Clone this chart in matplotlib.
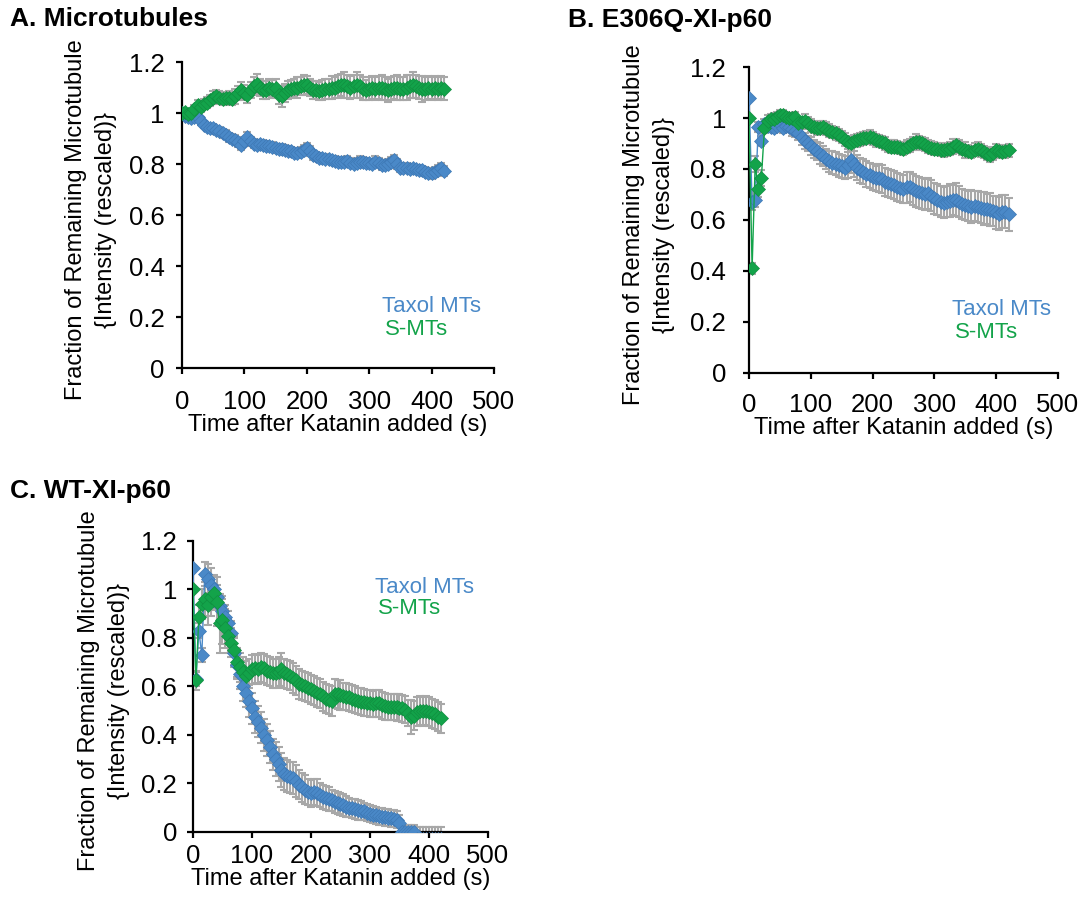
import numpy as np
import matplotlib
matplotlib.use("Agg")
import matplotlib.pyplot as plt
from matplotlib.ticker import FormatStrFormatter

plt.rcParams['font.family'] = ['Liberation Sans', 'DejaVu Sans']

# time points (s), one every 5 s
time_s = list(range(0, 425, 5))

# ---- A. Microtubules
a_taxol = [1.00, 0.99, 0.985, 0.98, 0.985, 0.985, 0.97, 0.955, 0.945, 0.94,
           0.94, 0.933, 0.93, 0.92, 0.915, 0.905, 0.90, 0.895, 0.885, 0.875,
           0.89, 0.905, 0.89, 0.88, 0.875, 0.878, 0.875, 0.872, 0.87, 0.868,
           0.862, 0.86, 0.86, 0.855, 0.853, 0.85, 0.845, 0.842, 0.848, 0.855,
           0.862, 0.85, 0.835, 0.83, 0.825, 0.822, 0.82, 0.818, 0.815, 0.812,
           0.81, 0.81, 0.808, 0.812, 0.805, 0.802, 0.805, 0.81, 0.808, 0.805,
           0.803, 0.802, 0.81, 0.805, 0.796, 0.798, 0.80, 0.808, 0.815, 0.80,
           0.785, 0.783, 0.785, 0.782, 0.783, 0.78, 0.778, 0.776, 0.77, 0.765,
           0.763, 0.77, 0.778, 0.783, 0.772]
a_taxol_err = [0.005, 0.01, 0.012, 0.012, 0.015, 0.015, 0.015, 0.015, 0.015, 0.016,
               0.016, 0.016, 0.017, 0.017, 0.017, 0.018, 0.018, 0.018, 0.018, 0.018,
               0.018, 0.02, 0.018, 0.018, 0.018, 0.018, 0.018, 0.018, 0.018, 0.018,
               0.018, 0.018, 0.018, 0.018, 0.018, 0.018, 0.018, 0.018, 0.018, 0.02,
               0.02, 0.02, 0.018, 0.018, 0.018, 0.018, 0.018, 0.018, 0.018, 0.018,
               0.018, 0.018, 0.018, 0.02, 0.018, 0.018, 0.018, 0.02, 0.018, 0.018,
               0.018, 0.018, 0.02, 0.018, 0.018, 0.018, 0.018, 0.018, 0.02, 0.018,
               0.018, 0.018, 0.018, 0.018, 0.018, 0.018, 0.018, 0.018, 0.018, 0.02,
               0.02, 0.02, 0.02, 0.02, 0.02]
a_smt = [1.00, 1.005, 0.995, 1.00, 1.015, 1.03, 1.025, 1.035, 1.04, 1.05,
         1.06, 1.065, 1.06, 1.055, 1.058, 1.06, 1.055, 1.065, 1.08, 1.09,
         1.08, 1.07, 1.09, 1.105, 1.115, 1.10, 1.09, 1.09, 1.10, 1.095,
         1.10, 1.07, 1.065, 1.08, 1.09, 1.095, 1.10, 1.10, 1.105, 1.11,
         1.11, 1.10, 1.09, 1.09, 1.085, 1.09, 1.095, 1.095, 1.10, 1.10,
         1.105, 1.11, 1.11, 1.105, 1.10, 1.105, 1.11, 1.105, 1.095, 1.09,
         1.095, 1.10, 1.095, 1.10, 1.10, 1.095, 1.09, 1.095, 1.10, 1.10,
         1.095, 1.095, 1.10, 1.105, 1.11, 1.105, 1.10, 1.095, 1.095, 1.10,
         1.095, 1.10, 1.095, 1.10, 1.095]
a_smt_err = [0.005, 0.01, 0.012, 0.015, 0.018, 0.02, 0.02, 0.02, 0.022, 0.022,
             0.025, 0.025, 0.025, 0.025, 0.025, 0.025, 0.025, 0.028, 0.028, 0.03,
             0.03, 0.03, 0.03, 0.035, 0.04, 0.035, 0.035, 0.035, 0.035, 0.035,
             0.035, 0.035, 0.04, 0.035, 0.035, 0.035, 0.035, 0.04, 0.035, 0.04,
             0.035, 0.035, 0.035, 0.035, 0.035, 0.04, 0.04, 0.04, 0.045, 0.04,
             0.045, 0.045, 0.05, 0.045, 0.045, 0.045, 0.05, 0.045, 0.045, 0.04,
             0.045, 0.045, 0.045, 0.045, 0.05, 0.045, 0.045, 0.045, 0.045, 0.05,
             0.045, 0.045, 0.05, 0.045, 0.05, 0.045, 0.045, 0.05, 0.045, 0.045,
             0.045, 0.045, 0.045, 0.045, 0.045]

# ---- B. E306Q-XI-p60
b_taxol = [1.08, 0.67, 0.68, 0.965, 0.91, 0.975, 0.97, 0.965, 0.96, 0.97,
           0.975, 0.96, 0.97, 0.965, 0.955, 0.95, 0.94, 0.925, 0.91, 0.90,
           0.89, 0.88, 0.87, 0.86, 0.85, 0.84, 0.83, 0.825, 0.82, 0.815,
           0.81, 0.805, 0.815, 0.835, 0.82, 0.805, 0.795, 0.79, 0.78, 0.775,
           0.768, 0.763, 0.765, 0.762, 0.75, 0.745, 0.74, 0.737, 0.73, 0.725,
           0.722, 0.728, 0.73, 0.72, 0.712, 0.708, 0.704, 0.70, 0.704, 0.695,
           0.685, 0.68, 0.672, 0.668, 0.672, 0.675, 0.678, 0.68, 0.672, 0.662,
           0.658, 0.655, 0.652, 0.655, 0.652, 0.648, 0.645, 0.643, 0.64, 0.636,
           0.63, 0.625, 0.632, 0.633, 0.622]
b_taxol_err = [0.005, 0.03, 0.03, 0.02, 0.02, 0.02, 0.02, 0.02, 0.02, 0.02,
               0.02, 0.02, 0.02, 0.02, 0.025, 0.025, 0.025, 0.03, 0.03, 0.03,
               0.035, 0.035, 0.035, 0.04, 0.04, 0.04, 0.04, 0.045, 0.045, 0.045,
               0.045, 0.045, 0.05, 0.05, 0.05, 0.05, 0.05, 0.05, 0.05, 0.05,
               0.05, 0.05, 0.055, 0.055, 0.055, 0.055, 0.055, 0.055, 0.055, 0.055,
               0.055, 0.06, 0.06, 0.06, 0.06, 0.06, 0.06, 0.06, 0.06, 0.06,
               0.06, 0.06, 0.06, 0.06, 0.06, 0.065, 0.06, 0.065, 0.06, 0.06,
               0.06, 0.06, 0.065, 0.06, 0.06, 0.06, 0.065, 0.06, 0.065, 0.06,
               0.065, 0.065, 0.065, 0.065, 0.065]
b_smt = [1.00, 0.41, 0.82, 0.72, 0.765, 0.96, 0.99, 0.995, 0.998, 1.005,
         1.01, 1.01, 1.005, 1.00, 1.00, 1.005, 0.98, 0.985, 0.99, 0.98,
         0.97, 0.965, 0.96, 0.962, 0.965, 0.958, 0.95, 0.945, 0.94, 0.933,
         0.925, 0.915, 0.905, 0.90, 0.91, 0.913, 0.917, 0.92, 0.923, 0.926,
         0.92, 0.913, 0.91, 0.906, 0.90, 0.89, 0.887, 0.887, 0.886, 0.882,
         0.88, 0.887, 0.893, 0.90, 0.906, 0.904, 0.90, 0.895, 0.887, 0.884,
         0.88, 0.878, 0.875, 0.874, 0.877, 0.88, 0.888, 0.893, 0.888, 0.88,
         0.875, 0.87, 0.867, 0.875, 0.88, 0.873, 0.867, 0.86, 0.854, 0.862,
         0.874, 0.87, 0.867, 0.87, 0.874]
b_smt_err = [0.005, 0.02, 0.03, 0.03, 0.03, 0.02, 0.02, 0.02, 0.02, 0.02,
             0.02, 0.02, 0.02, 0.02, 0.02, 0.02, 0.02, 0.02, 0.025, 0.025,
             0.025, 0.025, 0.025, 0.025, 0.025, 0.025, 0.025, 0.025, 0.025, 0.025,
             0.025, 0.025, 0.025, 0.025, 0.025, 0.025, 0.025, 0.025, 0.025, 0.025,
             0.025, 0.025, 0.025, 0.025, 0.025, 0.025, 0.025, 0.025, 0.025, 0.025,
             0.025, 0.025, 0.025, 0.025, 0.03, 0.025, 0.025, 0.025, 0.025, 0.025,
             0.025, 0.025, 0.025, 0.025, 0.025, 0.025, 0.03, 0.025, 0.025, 0.025,
             0.03, 0.025, 0.025, 0.025, 0.025, 0.025, 0.025, 0.025, 0.025, 0.025,
             0.025, 0.025, 0.025, 0.025, 0.025]

# ---- C. WT-XI-p60
c_taxol = [1.09, 0.63, 0.83, 0.73, 1.065, 1.045, 1.02, 1.00, 0.97, 0.93,
           0.91, 0.885, 0.86, 0.82, 0.74, 0.69, 0.65, 0.60, 0.575, 0.54,
           0.51, 0.475, 0.455, 0.43, 0.40, 0.38, 0.35, 0.32, 0.30, 0.28,
           0.255, 0.24, 0.23, 0.225, 0.222, 0.21, 0.195, 0.185, 0.175, 0.165,
           0.16, 0.165, 0.162, 0.152, 0.145, 0.14, 0.135, 0.13, 0.125, 0.12,
           0.115, 0.11, 0.105, 0.10, 0.097, 0.094, 0.09, 0.088, 0.085, 0.08,
           0.075, 0.072, 0.068, 0.065, 0.063, 0.06, 0.058, 0.056, 0.054, 0.05,
           0.035, 0.0, 0.0, 0.0, 0.0, 0.0, -0.03, -0.03, -0.03, -0.03,
           -0.03, -0.03, -0.03, -0.03, -0.03]
c_taxol_err = [0.005, 0.03, 0.03, 0.03, 0.05, 0.06, 0.07, 0.06, 0.05, 0.05,
               0.05, 0.05, 0.05, 0.05, 0.06, 0.06, 0.06, 0.06, 0.06, 0.065,
               0.065, 0.065, 0.065, 0.065, 0.065, 0.065, 0.065, 0.065, 0.07, 0.07,
               0.07, 0.065, 0.065, 0.065, 0.065, 0.065, 0.06, 0.06, 0.06, 0.055,
               0.055, 0.055, 0.055, 0.05, 0.05, 0.05, 0.05, 0.045, 0.045, 0.045,
               0.045, 0.045, 0.045, 0.04, 0.04, 0.04, 0.04, 0.04, 0.035, 0.035,
               0.035, 0.035, 0.035, 0.035, 0.035, 0.035, 0.035, 0.035, 0.035, 0.035,
               0.035, 0.03, 0.03, 0.03, 0.03, 0.03, 0.05, 0.05, 0.05, 0.05,
               0.05, 0.05, 0.05, 0.05, 0.05]
c_smt = [1.00, 0.625, 0.885, 0.94, 0.96, 0.935, 0.97, 0.985, 0.95, 0.86,
         0.875, 0.84, 0.81, 0.78, 0.75, 0.70, 0.68, 0.66, 0.645, 0.655,
         0.67, 0.675, 0.67, 0.68, 0.675, 0.665, 0.66, 0.655, 0.655, 0.66,
         0.67, 0.655, 0.65, 0.645, 0.635, 0.625, 0.61, 0.605, 0.60, 0.595,
         0.588, 0.582, 0.575, 0.57, 0.56, 0.55, 0.545, 0.54, 0.57, 0.568,
         0.565, 0.56, 0.558, 0.555, 0.55, 0.545, 0.54, 0.537, 0.535, 0.532,
         0.53, 0.528, 0.53, 0.53, 0.522, 0.518, 0.515, 0.516, 0.516, 0.514,
         0.512, 0.51, 0.505, 0.49, 0.475, 0.48, 0.495, 0.50, 0.498, 0.50,
         0.495, 0.49, 0.485, 0.475, 0.468]
c_smt_err = [0.005, 0.04, 0.05, 0.06, 0.07, 0.08, 0.08, 0.07, 0.1, 0.12,
             0.1, 0.08, 0.07, 0.06, 0.06, 0.06, 0.06, 0.06, 0.06, 0.06,
             0.06, 0.06, 0.06, 0.06, 0.06, 0.06, 0.06, 0.06, 0.06, 0.06,
             0.07, 0.06, 0.06, 0.06, 0.06, 0.06, 0.06, 0.06, 0.06, 0.06,
             0.06, 0.06, 0.06, 0.06, 0.06, 0.06, 0.06, 0.06, 0.06, 0.06,
             0.06, 0.055, 0.055, 0.055, 0.055, 0.055, 0.055, 0.055, 0.055, 0.055,
             0.055, 0.055, 0.055, 0.055, 0.055, 0.055, 0.055, 0.055, 0.055, 0.055,
             0.055, 0.055, 0.055, 0.055, 0.07, 0.06, 0.06, 0.06, 0.06, 0.06,
             0.06, 0.06, 0.06, 0.06, 0.06]

titles = ['A. Microtubules', 'B. E306Q-XI-p60', 'C. WT-XI-p60']
series_names = ['Taxol MTs', 'S-MTs']
yticks = [0, 0.2, 0.4, 0.6, 0.8, 1.0, 1.2]
xticks = [0, 100, 200, 300, 400, 500]

BLUE = '#4a89c8'
GREEN = '#13a34a'
GREY = '#a8a8a8'


def draw_panel(ax, taxol, taxol_err, smt, smt_err, legend_xy, ypad, xpad, ylab_x):
    t = np.array(time_s)
    for vals, errs in ((taxol, taxol_err), (smt, smt_err)):
        ax.errorbar(t, vals, yerr=errs, fmt='none', ecolor=GREY,
                    elinewidth=1.5, capsize=2.8, capthick=1.5, zorder=2)
    ax.plot(t, taxol, color=BLUE, lw=1.0, marker='D', ms=6.8,
            mfc=BLUE, mec='#3d78b5', mew=0.5, zorder=3)
    ax.plot(t, smt, color=GREEN, lw=1.0, marker='D', ms=6.8,
            mfc=GREEN, mec='#0f8f40', mew=0.5, zorder=4)

    ax.set_xlim(0, 500)
    ax.set_ylim(0, 1.2)
    ax.set_xticks(xticks)
    ax.set_yticks(yticks)
    ax.yaxis.set_major_formatter(FormatStrFormatter('%g'))
    for s in ('top', 'right'):
        ax.spines[s].set_visible(False)
    for s in ('left', 'bottom'):
        ax.spines[s].set_linewidth(1.6)
    ax.tick_params(axis='both', direction='out', length=4.5, width=1.6, labelsize=18.5)
    ax.tick_params(axis='y', pad=ypad)
    ax.tick_params(axis='x', pad=xpad)

    ax.set_xlabel('Time after Katanin added (s)', fontsize=17, labelpad=0)
    ax.set_ylabel('Fraction of Remaining Microtubule\n{Intensity (rescaled)}',
                  fontsize=17, linespacing=1.45)
    ax.yaxis.set_label_coords(ylab_x, 0.485)

    lx, ly = legend_xy
    ax.text(lx, ly, series_names[0], color=BLUE, fontsize=16, va='center')
    ax.text(lx + 6, ly - 0.09, series_names[1], color=GREEN, fontsize=16, va='center')


fig = plt.figure(figsize=(10.89, 8.97), dpi=100)

axA = fig.add_axes([0.1671, 0.5897, 0.2865, 0.3411])
axB = fig.add_axes([0.6878, 0.5842, 0.2837, 0.3411])
axC = fig.add_axes([0.1772, 0.0725, 0.2709, 0.3244])

draw_panel(axA, a_taxol, a_taxol_err, a_smt, a_smt_err, (320, 0.24), 8, 11, -0.208)
draw_panel(axB, b_taxol, b_taxol_err, b_smt, b_smt_err, (328, 0.247), 12, 10, -0.24)
draw_panel(axC, c_taxol, c_taxol_err, c_smt, c_smt_err, (308, 1.01), 7, 4, -0.214)

fig.text(10 / 1089, 1 - 19 / 897, titles[0], fontsize=19, fontweight='bold', va='center')
fig.text(568 / 1089, 1 - 20 / 897, titles[1], fontsize=19, fontweight='bold', va='center')
fig.text(10 / 1089, 1 - 491 / 897, titles[2], fontsize=19, fontweight='bold', va='center')

fig.savefig('out.png', dpi=100)
